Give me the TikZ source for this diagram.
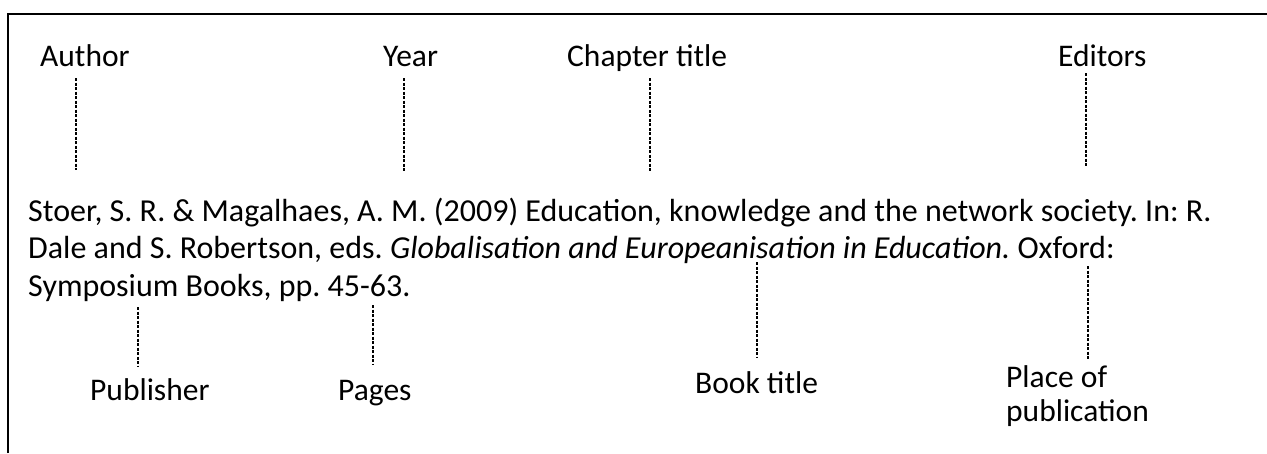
\documentclass[tikz,border=0pt]{standalone}
\usepackage{fontspec}
\setmainfont{Carlito}
\frenchspacing
\tikzset{
  tag/.style={anchor=base west, inner sep=0pt, font=\fontsize{31.5}{34}\selectfont},
  cue/.style={line width=2pt, dash pattern=on 3pt off 1.5pt},
  cuethin/.style={line width=1.4pt, dash pattern=on 3pt off 1.5pt}
}
\begin{document}
\begin{tikzpicture}[x=1pt, y=-1pt]
\useasboundingbox (0,0) rectangle (1267,453);
\draw[line width=2pt](8,453)--(8,14)--(1267,14);

% labels above
\node[tag] (author) at (40,66) {Author};
\node[tag] (year) at (383,66) {Year};
\node[tag] (chapter) at (567,66) {Chapter title};
\node[tag] (editors) at (1058,66) {Editors};

% the reference (base = last line)
\node[tag, align=left, font=\fontsize{32}{37.5}\selectfont] (ref) at (28,296)
  {Stoer, S. R. \& Magalhaes, A. M. (2009) Education, knowledge and the network society. In: R.\\
   Dale and S. Robertson, eds. \textit{Globalisation and Europeanisation in Education.} Oxford:\\
   Symposium Books, pp. 45-63.};

% labels below
\node[tag] (publisher) at (90,400) {Publisher};
\node[tag] (pages) at (338,400) {Pages};
\node[tag] (book) at (695,393) {Book title};
\node[tag, align=left] (place) at (1006,421) {Place of\\publication};

\foreach \n/\x/\ya/\yb in {au/76/78/170, ye/404/78/172, ch/650/78/172, ed/1086/73/167}
{
    \coordinate (\n1) at (\x,\ya);
    \coordinate (\n2) at (\x,\yb);
    \draw[cue](\n1)--(\n2);
}
\foreach \n/\x/\ya/\yb in {pu/138/307/367, pa/373/305/365, bo/757/262/357, pl/1088/266/360}
{
    \coordinate (\n1) at (\x,\ya);
    \coordinate (\n2) at (\x,\yb);
    \draw[cuethin](\n1)--(\n2);
}
\end{tikzpicture}
\end{document}
